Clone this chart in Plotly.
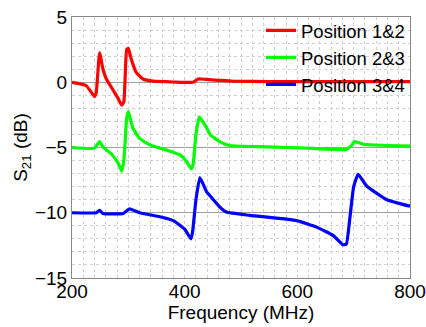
import plotly.graph_objects as go

# Position 1&2 (red)
f12 = [200, 225, 240, 243, 249, 255, 261, 273, 282, 288, 292, 297, 300, 305, 314, 326, 344, 380, 415, 424, 437, 460, 485, 550, 650, 750, 800]
s12 = [0.0, -0.25, -1.1, -0.8, 2.25, 1.0, 0.25, -0.6, -1.25, -1.75, -1.5, 2.5, 2.6, 1.8, 0.75, 0.25, 0.08, 0.02, 0.0, 0.25, 0.22, 0.15, 0.08, 0.05, 0.05, 0.05, 0.05]

# Position 2&3 (green)
f23 = [200, 240, 249, 255, 270, 282, 288, 292, 297, 300, 308, 320, 338, 368, 391, 403, 412, 415, 420, 426, 439, 445, 462, 480, 545, 620, 687, 695, 702, 717, 760, 800]
s23 = [-5.0, -5.05, -4.55, -4.95, -5.5, -6.2, -6.8, -6.0, -2.8, -2.25, -3.5, -4.3, -4.8, -5.2, -5.55, -6.05, -6.65, -6.3, -4.0, -2.65, -3.5, -4.0, -4.55, -4.85, -4.95, -5.05, -5.15, -4.9, -4.55, -4.75, -4.85, -4.9]

# Position 3&4 (blue)
f34 = [200, 243, 249, 255, 291, 302, 320, 350, 380, 400, 411, 414, 420, 427, 439, 445, 462, 474, 516, 599, 634, 664, 681, 687, 693, 700, 708, 723, 759, 800]
s34 = [-10.0, -10.0, -9.82, -10.05, -10.05, -9.7, -10.0, -10.25, -10.6, -11.25, -12.0, -11.5, -9.0, -7.3, -8.4, -8.7, -9.55, -9.95, -10.2, -10.6, -11.1, -11.75, -12.45, -12.4, -10.5, -8.0, -7.05, -7.95, -9.0, -9.5]

names = ["Position 1&2", "Position 2&3", "Position 3&4"]
colors = ["#ff0000", "#00ff00", "#0000ff"]

fig = go.Figure()
for fx, sy, nm, c in zip([f12, f23, f34], [s12, s23, s34], names, colors):
    fig.add_trace(go.Scatter(x=fx, y=sy, mode="lines", name=nm,
                             line=dict(color=c, width=3.2, shape="spline", smoothing=0.4)))

font = "Liberation Sans, Arial, sans-serif"
fig.update_layout(
    width=426, height=327,
    margin=dict(l=72, r=16, t=14, b=49),
    paper_bgcolor="white", plot_bgcolor="white",
    font=dict(family=font, size=19, color="black"),
    showlegend=True,
    legend=dict(x=1.0, y=1.02, xanchor="right", yanchor="top",
                bgcolor="rgba(0,0,0,0)", font=dict(size=18.5),
                tracegroupgap=0, itemwidth=30),
)
fig.update_xaxes(
    range=[200, 800], dtick=200, tick0=200, automargin=False,
    showline=True, linecolor="#888", linewidth=1, mirror=True,
    showgrid=True, gridcolor="#d0d0d0", griddash="dot", gridwidth=1,
    minor=dict(dtick=20, showgrid=True, gridcolor="#d0d0d0", griddash="dot", gridwidth=1),
    ticks="", zeroline=False, ticklabelstandoff=-4,
    title=dict(text="Frequency (MHz)", font=dict(size=19), standoff=0),
    tickfont=dict(size=19),
)
fig.update_yaxes(
    range=[-15, 5], dtick=5, tick0=0, automargin=False,
    showline=True, linecolor="#888", linewidth=1, mirror=True,
    showgrid=True, gridcolor="#a0a0a0", gridwidth=1,
    minor=dict(dtick=1, showgrid=True, gridcolor="#d0d0d0", griddash="dot", gridwidth=1),
    ticks="", zeroline=False,
    title=dict(text="S<sub>21</sub> (dB)", font=dict(size=19), standoff=2),
    tickfont=dict(size=19),
)
fig.write_html("out.html")
